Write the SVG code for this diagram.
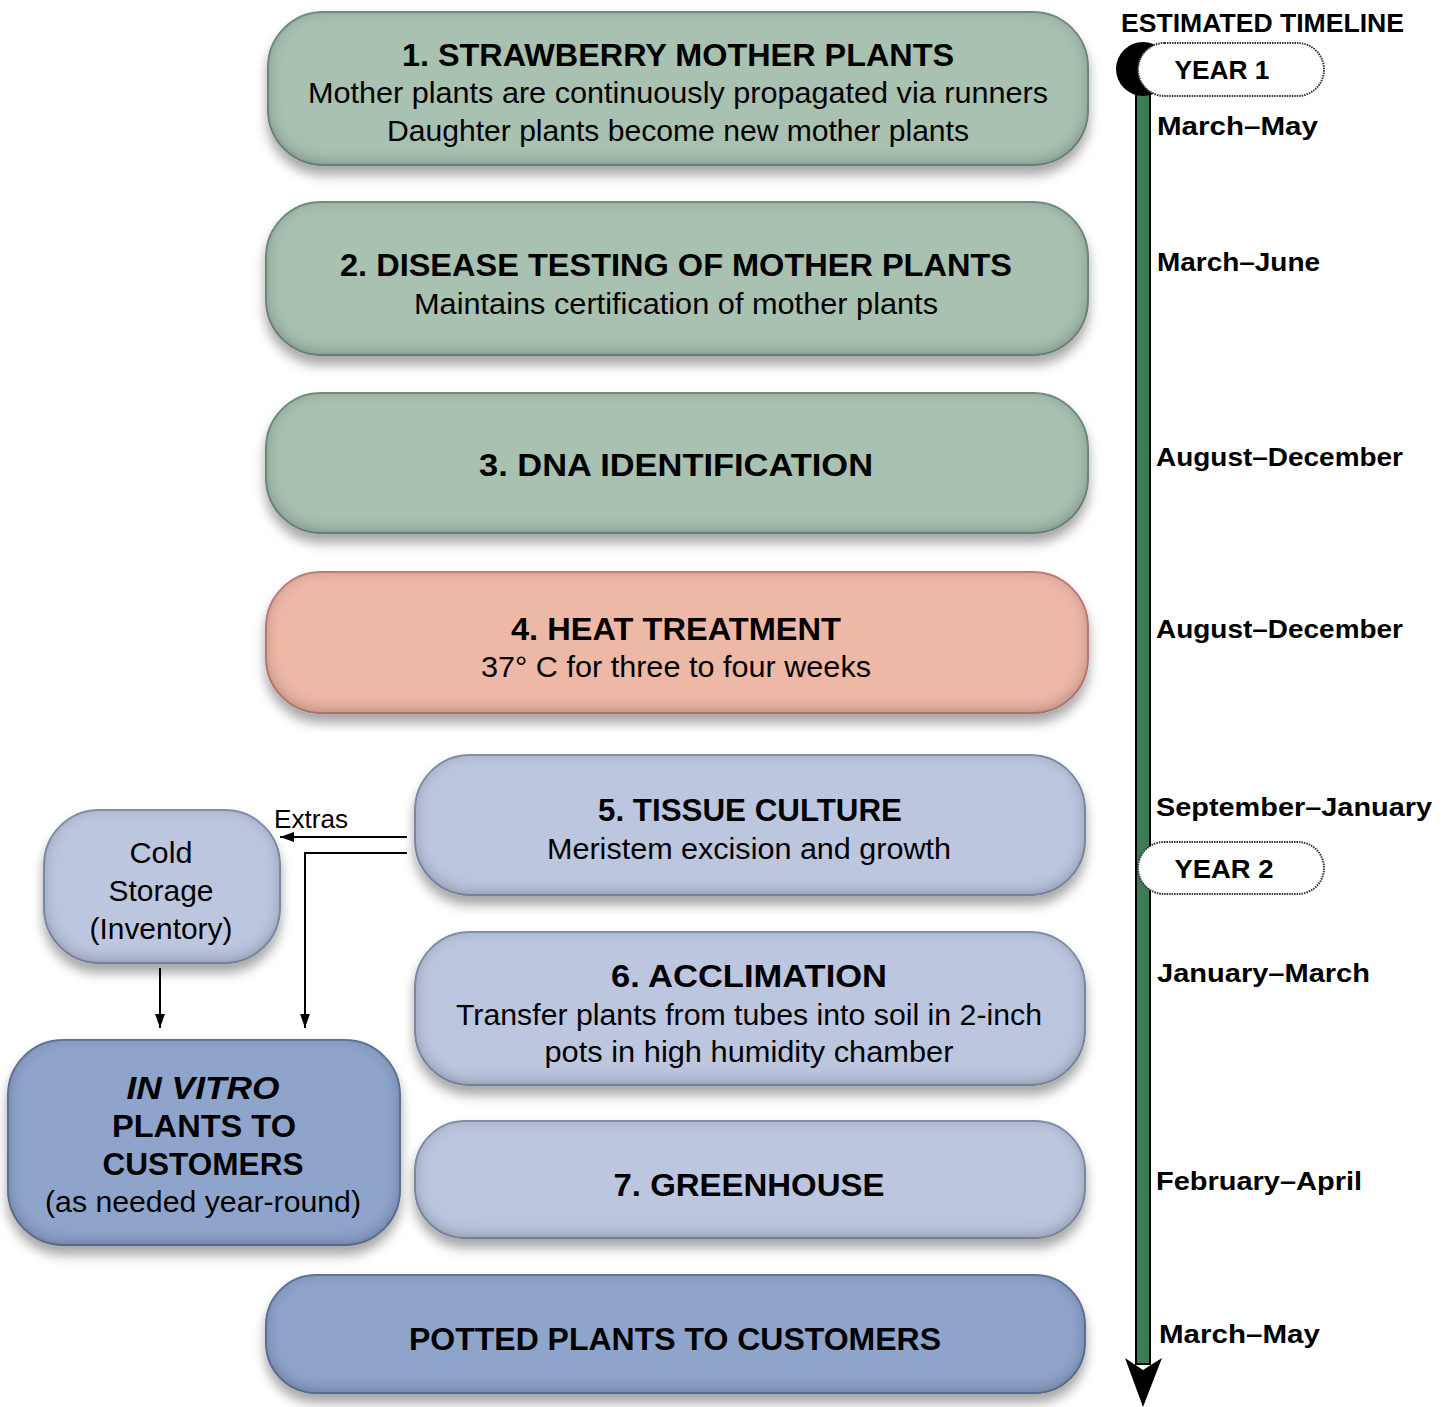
<svg xmlns="http://www.w3.org/2000/svg" width="1450" height="1407" viewBox="0 0 1450 1407">
<style>
.t{font-family:"Liberation Sans",Arial,sans-serif;font-weight:bold;font-size:31px;fill:#000;text-anchor:middle}
.s{font-family:"Liberation Sans",Arial,sans-serif;font-size:30px;fill:#000;text-anchor:middle}
.tl{font-family:"Liberation Sans",Arial,sans-serif;font-weight:bold;font-size:26px;fill:#000}
.green{fill:#a8c1b1;stroke:#7e9a8a;stroke-width:2}
.salmon{fill:#eeb8a7;stroke:#d08a82;stroke-width:2}
.lblue{fill:#bcc7df;stroke:#8e9cb8;stroke-width:2}
.dblue{fill:#8fa4cb;stroke:#6a7fa6;stroke-width:2}
.conn{fill:none;stroke:#000;stroke-width:2}
</style>
<defs>
<filter id="pillow" x="-10%" y="-20%" width="120%" height="150%">
<feGaussianBlur in="SourceAlpha" stdDeviation="6" result="b1"/>
<feOffset in="b1" dx="0" dy="9" result="o1"/>
<feFlood flood-color="#000" flood-opacity="0.35"/>
<feComposite in2="o1" operator="in" result="drop"/>
<feGaussianBlur in="SourceAlpha" stdDeviation="8" result="b2"/>
<feOffset in="b2" dx="0" dy="-3" result="o2"/>
<feComposite in="SourceAlpha" in2="o2" operator="arithmetic" k2="1" k3="-1" result="rim"/>
<feFlood flood-color="#1a2430" flood-opacity="0.6"/>
<feComposite in2="rim" operator="in" result="rimShade"/>
<feMerge><feMergeNode in="drop"/><feMergeNode in="SourceGraphic"/><feMergeNode in="rimShade"/></feMerge>
</filter>
<marker id="ah" viewBox="0 0 10 10" refX="10" refY="5" markerWidth="7" markerHeight="7" orient="auto" markerUnits="strokeWidth">
<path d="M0,1.5 L10,5 L0,8.5 Z" fill="#000"/>
</marker>
</defs>

<g id="timeline">
<rect x="1136" y="72" width="14" height="1292" fill="#3f7a56" stroke="#000" stroke-width="2"/>
<path d="M1125,1358 L1143,1370 L1162,1358 L1143,1407 Z" fill="#000"/>
<circle cx="1143" cy="69" r="27" fill="#000"/>
<rect x="1138" y="43" width="186" height="53" rx="26.5" fill="#fff" stroke="#333" stroke-width="2" stroke-dasharray="1.5 1"/>
<text class="tl" x="1222" y="79" text-anchor="middle" textLength="95" lengthAdjust="spacingAndGlyphs">YEAR 1</text>
<rect x="1138" y="842" width="186" height="52" rx="26" fill="#fff" stroke="#333" stroke-width="2" stroke-dasharray="1.5 1"/>
<text class="tl" x="1224" y="878" text-anchor="middle" textLength="99" lengthAdjust="spacingAndGlyphs">YEAR 2</text>
<text class="tl" x="1121" y="32" textLength="283" lengthAdjust="spacingAndGlyphs">ESTIMATED TIMELINE</text>
<text class="tl" x="1157" y="135" textLength="161" lengthAdjust="spacingAndGlyphs">March–May</text>
<text class="tl" x="1157" y="271" textLength="163" lengthAdjust="spacingAndGlyphs">March–June</text>
<text class="tl" x="1156" y="466" textLength="247" lengthAdjust="spacingAndGlyphs">August–December</text>
<text class="tl" x="1156" y="638" textLength="247" lengthAdjust="spacingAndGlyphs">August–December</text>
<text class="tl" x="1156" y="816" textLength="276" lengthAdjust="spacingAndGlyphs">September–January</text>
<text class="tl" x="1157" y="982" textLength="213" lengthAdjust="spacingAndGlyphs">January–March</text>
<text class="tl" x="1156" y="1190" textLength="206" lengthAdjust="spacingAndGlyphs">February–April</text>
<text class="tl" x="1159" y="1343" textLength="161" lengthAdjust="spacingAndGlyphs">March–May</text>
</g>

<g id="node1">
<rect class="green" x="268" y="12" width="820" height="153" rx="55" filter="url(#pillow)"/>
<text class="t" x="678" y="66" textLength="552" lengthAdjust="spacingAndGlyphs">1. STRAWBERRY MOTHER PLANTS</text>
<text class="s" x="678" y="103" textLength="740" lengthAdjust="spacingAndGlyphs">Mother plants are continuously propagated via runners</text>
<text class="s" x="678" y="141" textLength="582" lengthAdjust="spacingAndGlyphs">Daughter plants become new mother plants</text>
</g>
<g id="node2">
<rect class="green" x="266" y="202" width="822" height="153" rx="55" filter="url(#pillow)"/>
<text class="t" x="676" y="276" textLength="672" lengthAdjust="spacingAndGlyphs">2. DISEASE TESTING OF MOTHER PLANTS</text>
<text class="s" x="676" y="314" textLength="524" lengthAdjust="spacingAndGlyphs">Maintains certification of mother plants</text>
</g>
<g id="node3">
<rect class="green" x="266" y="393" width="822" height="140" rx="55" filter="url(#pillow)"/>
<text class="t" x="676" y="476" textLength="394" lengthAdjust="spacingAndGlyphs">3. DNA IDENTIFICATION</text>
</g>
<g id="node4">
<rect class="salmon" x="266" y="572" width="822" height="141" rx="55" filter="url(#pillow)"/>
<text class="t" x="676" y="640" textLength="330" lengthAdjust="spacingAndGlyphs">4. HEAT TREATMENT</text>
<text class="s" x="676" y="677" textLength="390" lengthAdjust="spacingAndGlyphs">37° C for three to four weeks</text>
</g>
<g id="node5">
<rect class="lblue" x="415" y="755" width="670" height="140" rx="55" filter="url(#pillow)"/>
<text class="t" x="750" y="821" textLength="304" lengthAdjust="spacingAndGlyphs">5. TISSUE CULTURE</text>
<text class="s" x="749" y="859" textLength="404" lengthAdjust="spacingAndGlyphs">Meristem excision and growth</text>
</g>
<g id="node6">
<rect class="lblue" x="415" y="932" width="670" height="153" rx="55" filter="url(#pillow)"/>
<text class="t" x="749" y="987" textLength="276" lengthAdjust="spacingAndGlyphs">6. ACCLIMATION</text>
<text class="s" x="749" y="1025" textLength="586" lengthAdjust="spacingAndGlyphs">Transfer plants from tubes into soil in 2-inch</text>
<text class="s" x="749" y="1062" textLength="409" lengthAdjust="spacingAndGlyphs">pots in high humidity chamber</text>
</g>
<g id="node7">
<rect class="lblue" x="415" y="1121" width="670" height="117" rx="50" filter="url(#pillow)"/>
<text class="t" x="749" y="1196" textLength="271" lengthAdjust="spacingAndGlyphs">7. GREENHOUSE</text>
</g>
<g id="potted">
<rect class="dblue" x="266" y="1275" width="819" height="118" rx="50" filter="url(#pillow)"/>
<text class="t" x="675" y="1350" textLength="532" lengthAdjust="spacingAndGlyphs">POTTED PLANTS TO CUSTOMERS</text>
</g>
<g id="cold">
<rect class="lblue" x="44" y="810" width="236" height="153" rx="55" filter="url(#pillow)"/>
<text class="s" x="161" y="863" textLength="63" lengthAdjust="spacingAndGlyphs">Cold</text>
<text class="s" x="161" y="901" textLength="105" lengthAdjust="spacingAndGlyphs">Storage</text>
<text class="s" x="161" y="939" textLength="143" lengthAdjust="spacingAndGlyphs">(Inventory)</text>
</g>
<g id="invitro">
<rect class="dblue" x="8" y="1040" width="392" height="205" rx="55" filter="url(#pillow)"/>
<text class="t" x="203" y="1099" font-style="italic" textLength="153" lengthAdjust="spacingAndGlyphs">IN VITRO</text>
<text class="t" x="204" y="1137" textLength="184" lengthAdjust="spacingAndGlyphs">PLANTS TO</text>
<text class="t" x="203" y="1175" textLength="201" lengthAdjust="spacingAndGlyphs">CUSTOMERS</text>
<text class="s" x="203" y="1212" textLength="316" lengthAdjust="spacingAndGlyphs">(as needed year-round)</text>
</g>

<g id="connectors">
<path class="conn" d="M407,837 L280,837" marker-end="url(#ah)"/>
<path class="conn" d="M407,853 L305,853 L305,1028" marker-end="url(#ah)"/>
<path class="conn" d="M160,968 L160,1028" marker-end="url(#ah)"/>
<text x="274" y="828" font-family="Liberation Sans, Arial, sans-serif" font-size="26" textLength="74" lengthAdjust="spacingAndGlyphs">Extras</text>
</g>
</svg>
